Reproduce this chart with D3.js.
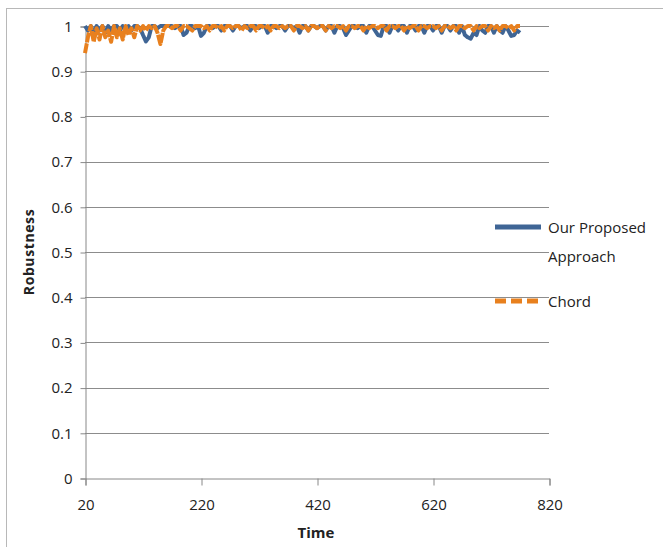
<!DOCTYPE html>
<html>
<head>
<meta charset="utf-8">
<script src="https://cdn.jsdelivr.net/npm/d3@7"></script>
<style>
  body { margin: 0; background: #fff; }
  svg { display: block; }
  text { font-family: "Open Sans", sans-serif; fill: #222; }
</style>
</head>
<body>
<div id="chart"></div>
<script>
// time samples, every 5 units from 20 to 770
const times = d3.range(20, 775, 5);

const ourApproach = [
  1, 0.99, 1, 0.985, 1, 0.99, 1, 0.985, 1, 0.99,
  1, 1, 0.99, 1, 0.995, 1, 0.99, 1, 1, 0.995,
  0.98, 0.966, 0.975, 1, 1, 0.995, 1, 1, 1, 1,
  1, 0.995, 1, 1, 0.98, 0.985, 1, 1, 0.995, 1,
  0.978, 0.985, 1, 1, 0.995, 1, 1, 0.99, 1, 1,
  1, 0.99, 1, 1, 0.995, 1, 1, 0.99, 1, 1,
  0.995, 1, 1, 0.985, 1, 1, 0.995, 1, 1, 0.99,
  1, 1, 0.995, 1, 0.985, 1, 1, 0.99, 1, 1,
  0.995, 1, 1, 0.99, 1, 1, 0.985, 1, 1, 0.995,
  0.98, 0.99, 1, 1, 0.995, 1, 1, 0.985, 1, 1,
  0.99, 0.98, 0.978, 1, 1, 0.985, 1, 1, 0.99, 1,
  1, 0.985, 1, 1, 0.99, 1, 1, 0.985, 1, 1,
  0.99, 1, 1, 0.985, 1, 1, 0.99, 1, 1, 0.985,
  1, 0.98, 0.975, 0.972, 0.985, 0.98, 1, 0.99, 0.985, 1,
  1, 0.985, 1, 0.99, 0.985, 1, 0.99, 0.978, 0.98, 0.99,
  0.985
];

const chord = [
  0.94, 0.975, 1, 0.965, 0.995, 0.97, 1, 0.975, 0.99, 0.965,
  1, 0.975, 0.995, 0.97, 1, 0.98, 0.995, 0.975, 1, 0.99,
  1, 0.99, 1, 0.995, 1, 0.985, 0.96, 0.99, 1, 1,
  0.995, 1, 1, 0.99, 1, 1, 0.995, 0.99, 1, 1,
  1, 0.995, 1, 0.99, 1, 1, 0.995, 1, 0.99, 1,
  1, 0.995, 1, 1, 0.99, 1, 0.995, 1, 1, 0.99,
  1, 1, 0.995, 1, 0.99, 1, 1, 0.995, 1, 0.995,
  1, 1, 0.99, 1, 1, 0.995, 1, 0.99, 1, 1,
  0.995, 1, 1, 0.99, 1, 0.995, 1, 1, 0.995, 1,
  0.99, 1, 1, 0.995, 1, 1, 0.99, 1, 0.995, 1,
  1, 0.995, 1, 1, 0.99, 1, 1, 0.995, 1, 1,
  0.99, 1, 0.995, 1, 1, 0.99, 1, 1, 0.995, 1,
  1, 0.995, 1, 0.99, 1, 1, 0.995, 1, 0.99, 1,
  1, 0.995, 1, 1, 0.99, 1, 0.995, 1, 1, 0.99,
  1, 0.995, 1, 0.99, 1, 1, 0.995, 1, 0.99, 1,
  1
];

const xTicks = [20, 220, 420, 620, 820];
const yTicks = [0, 0.1, 0.2, 0.3, 0.4, 0.5, 0.6, 0.7, 0.8, 0.9, 1];

const width = 663, height = 547;
const plotLeft = 85, plotRight = 549, plotTop = 26, plotBottom = 478;
const fontStack = '"Open Sans", sans-serif';

const svg = d3.select('#chart').append('svg')
  .attr('width', width)
  .attr('height', height);

// outer frame
svg.append('rect')
  .attr('x', 6.5).attr('y', 8.5)
  .attr('width', 670).attr('height', 560)
  .attr('fill', 'none')
  .attr('stroke', '#b8b8b8');

const x = d3.scaleLinear().domain([20, 820]).range([plotLeft, plotRight]);
const y = d3.scaleLinear().domain([0, 1]).range([plotBottom, plotTop]);

// gridlines
svg.append('g')
  .selectAll('line')
  .data(yTicks.filter(d => d > 0))
  .enter().append('line')
  .attr('x1', plotLeft).attr('x2', plotRight)
  .attr('y1', d => Math.round(y(d)) + 0.5)
  .attr('y2', d => Math.round(y(d)) + 0.5)
  .attr('stroke', '#8c8c8c')
  .attr('stroke-width', 1);

// y axis
const yAxis = svg.append('g')
  .attr('transform', 'translate(' + (plotLeft + 0.5) + ',0.5)')
  .call(d3.axisLeft(y).tickValues(yTicks).tickSize(5).tickPadding(8)
    .tickFormat(d => d3.format('~g')(d)));
yAxis.select('.domain').attr('stroke', '#888');
yAxis.selectAll('.tick line').attr('stroke', '#888');
yAxis.selectAll('text').attr('font-size', 15).attr('fill', '#222')
  .attr('font-family', fontStack);

// x axis
const xAxis = svg.append('g')
  .attr('transform', 'translate(0.5,' + (plotBottom + 0.5) + ')')
  .call(d3.axisBottom(x).tickValues(xTicks).tickSize(7).tickPadding(14));
xAxis.select('.domain').attr('stroke', '#888');
xAxis.selectAll('.tick line').attr('stroke', '#888');
xAxis.selectAll('text').attr('font-size', 15).attr('fill', '#222')
  .attr('font-family', fontStack);

// series
const line = d3.line()
  .x((d, i) => x(times[i]))
  .y(d => y(d));

svg.append('path')
  .datum(ourApproach)
  .attr('d', line)
  .attr('fill', 'none')
  .attr('stroke', '#3f6595')
  .attr('stroke-width', 4)
  .attr('stroke-linejoin', 'round');

svg.append('path')
  .datum(chord)
  .attr('d', line)
  .attr('fill', 'none')
  .attr('stroke', '#e8801e')
  .attr('stroke-width', 4)
  .attr('stroke-dasharray', '10,1')
  .attr('stroke-linejoin', 'round');

// axis titles
svg.append('text')
  .attr('transform', 'translate(34,252) rotate(-90)')
  .attr('text-anchor', 'middle')
  .attr('font-size', 14)
  .attr('font-weight', 'bold')
  .attr('letter-spacing', 0.6)
  .text('Robustness');

svg.append('text')
  .attr('x', 316).attr('y', 538)
  .attr('text-anchor', 'middle')
  .attr('font-size', 15)
  .attr('font-weight', 'bold')
  .text('Time');

// legend
const legend = svg.append('g');
legend.append('line')
  .attr('x1', 495).attr('x2', 541).attr('y1', 227).attr('y2', 227)
  .attr('stroke', '#3f6595').attr('stroke-width', 5);
legend.append('text').attr('x', 548).attr('y', 233).attr('font-size', 15).text('Our Proposed');
legend.append('text').attr('x', 548).attr('y', 262).attr('font-size', 15).text('Approach');
legend.append('line')
  .attr('x1', 495).attr('x2', 541).attr('y1', 301).attr('y2', 301)
  .attr('stroke', '#e8801e').attr('stroke-width', 5)
  .attr('stroke-dasharray', '11,5');
legend.append('text').attr('x', 548).attr('y', 307).attr('font-size', 15).text('Chord');
</script>
</body>
</html>
